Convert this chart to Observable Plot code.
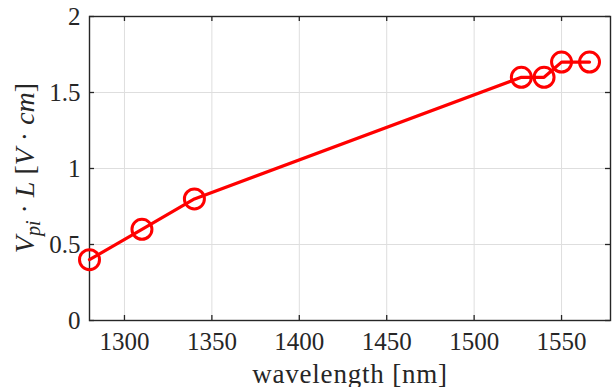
<!DOCTYPE html>
<html>
<head>
<meta charset="utf-8">
<script src="https://cdn.jsdelivr.net/npm/d3@7"></script>
<script src="https://cdn.jsdelivr.net/npm/@observablehq/plot@0.6"></script>
<style>
  html, body { margin: 0; padding: 0; background: white; }
</style>
</head>
<body>
<div id="chart"></div>
<script>
const wavelength = [1280, 1310, 1340, 1527, 1540, 1550, 1566];
const vpiL = [0.4, 0.6, 0.8, 1.6, 1.6, 1.7, 1.7];
const xTicks = [1300, 1350, 1400, 1450, 1500, 1550];
const yTicks = [0, 0.5, 1, 1.5, 2];
const xLabel = "wavelength [nm]";

const data = wavelength.map((w, i) => ({w, v: vpiL[i]}));

const W = 612, H = 387;
const mTop = 16, mBottom = 67, mLeft = 89, mRight = 2;
const plotW = W - mLeft - mRight, plotH = H - mTop - mBottom;
const ink = "#262626";
const red = "#ff0000";
const serif = "Liberation Serif";

const svg = Plot.plot({
  width: W, height: H,
  marginTop: mTop, marginBottom: mBottom, marginLeft: mLeft, marginRight: mRight,
  style: {fontFamily: serif, fontSize: "25px", color: ink, background: "white"},
  x: {domain: [1280, 1578], label: null, axis: null},
  y: {domain: [0, 2], label: null, axis: null},
  marks: [
    Plot.gridX(xTicks, {stroke: "#dedede", strokeOpacity: 1, strokeWidth: 1}),
    Plot.gridY(yTicks, {stroke: "#dedede", strokeOpacity: 1, strokeWidth: 1}),
    Plot.tickX(xTicks, {x: d => d, insetTop: plotH - 5, stroke: ink, strokeWidth: 1.3}),
    Plot.tickX(xTicks, {x: d => d, insetBottom: plotH - 5, stroke: ink, strokeWidth: 1.3}),
    Plot.tickY(yTicks, {y: d => d, insetRight: plotW - 5, stroke: ink, strokeWidth: 1.3}),
    Plot.tickY(yTicks, {y: d => d, insetLeft: plotW - 5, stroke: ink, strokeWidth: 1.3}),
    Plot.frame({stroke: ink, strokeWidth: 1.4}),
    Plot.text(xTicks, {x: d => d, text: d => String(d), frameAnchor: "bottom", lineAnchor: "top", dy: 12, fill: ink, fontSize: 25}),
    Plot.text(yTicks, {y: d => d, text: d => String(d), frameAnchor: "left", textAnchor: "end", lineAnchor: "middle", dx: -9, fill: ink, fontSize: 25}),
    Plot.text([xLabel], {text: d => d, frameAnchor: "bottom", lineAnchor: "bottom", dy: 62, fill: ink, fontSize: 27}),
    Plot.line(data, {x: "w", y: "v", stroke: red, strokeWidth: 3.2}),
    Plot.dot(data, {x: "w", y: "v", r: 10, stroke: red, strokeWidth: 3, fill: "none"})
  ]
});

const s = d3.select(svg);
s.selectAll("text").style("font-family", serif);
s.selectAll("text").filter(function() { return this.textContent === xLabel; }).attr("letter-spacing", "0.8px");

// y-axis label with math styling
const cx = 34, cy = mTop + plotH / 2;
const t = s.append("text")
  .attr("transform", `translate(${cx},${cy}) rotate(-90)`)
  .attr("text-anchor", "middle")
  .attr("fill", ink)
  .style("font-family", serif)
  .attr("font-size", 28);
t.append("tspan").attr("font-style", "italic").text("V");
t.append("tspan").attr("font-style", "italic").attr("font-size", 20).attr("dy", 6).text("pi");
t.append("tspan").attr("dy", -6).text("\u2005\u00b7\u2005");
t.append("tspan").attr("font-style", "italic").text("L");
t.append("tspan").text(" [");
t.append("tspan").attr("font-style", "italic").text("V");
t.append("tspan").text("\u2005\u00b7\u2005");
t.append("tspan").attr("font-style", "italic").text("cm");
t.append("tspan").text("]");

document.getElementById("chart").appendChild(svg);
</script>
</body>
</html>
